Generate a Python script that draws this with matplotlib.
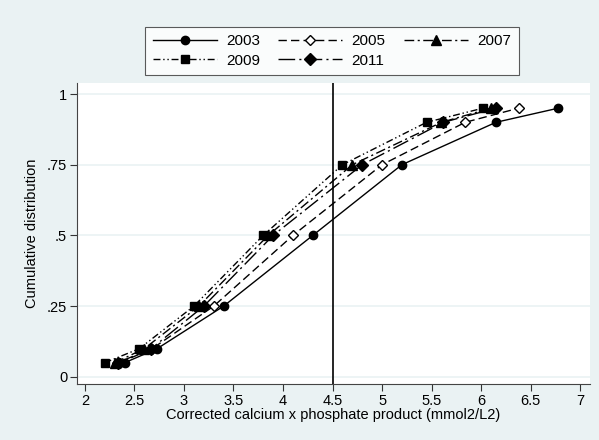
import matplotlib
matplotlib.use("Agg")
import matplotlib.pyplot as plt

plt.rcParams['font.family'] = ['Liberation Sans', 'DejaVu Sans']

# cumulative distribution levels
cum = [0.05, 0.1, 0.25, 0.5, 0.75, 0.9, 0.95]

# corrected Ca x P product at each level, by year
x2003 = [2.4, 2.73, 3.4, 4.3, 5.2, 6.15, 6.78]
x2005 = [2.35, 2.68, 3.3, 4.1, 5.0, 5.84, 6.38]
x2007 = [2.3, 2.6, 3.15, 3.85, 4.7, 5.6, 6.1]
x2009 = [2.2, 2.55, 3.1, 3.8, 4.6, 5.45, 6.02]
x2011 = [2.33, 2.67, 3.2, 3.9, 4.8, 5.62, 6.15]

xticks = [2, 2.5, 3, 3.5, 4, 4.5, 5, 5.5, 6, 6.5, 7]
xticklabels = ["2", "2.5", "3", "3.5", "4", "4.5", "5", "5.5", "6", "6.5", "7"]
yticks = [0, 0.25, 0.5, 0.75, 1]
yticklabels = ["0", ".25", ".5", ".75", "1"]

bg = "#eaf2f3"

fig = plt.figure(figsize=(5.99, 4.4), dpi=100, facecolor=bg)
ax = fig.add_axes([0.1285, 0.1273, 0.985 - 0.1285, 0.8114 - 0.1273])
ax.set_facecolor("white")

for y in yticks:
    ax.axhline(y, color=bg, lw=1.2, zorder=0)
ax.axvline(4.5, color="black", lw=1.2, zorder=1)

ms = 6
l1, = ax.plot(x2003, cum, color="black", lw=1, ls="-", marker="o", ms=ms, label="2003")
l2, = ax.plot(x2005, cum, color="black", lw=1, ls=(0, (6, 3)), marker="D", ms=ms - 1,
              mfc="white", mec="black", mew=1, label="2005")
l3, = ax.plot(x2007, cum, color="black", lw=1, ls=(0, (7, 2.5, 1.5, 2.5)), marker="^",
              ms=ms + 1, label="2007")
l4, = ax.plot(x2009, cum, color="black", lw=1, ls=(0, (5, 2, 1, 2, 1, 2)), marker="s",
              ms=ms, label="2009")
l5, = ax.plot(x2011, cum, color="black", lw=1, ls=(0, (12, 3, 1.5, 3)), marker="D",
              ms=ms, label="2011")

ax.set_xlim(1.92, 7.1)
ax.set_ylim(-0.025, 1.039)
ax.set_xticks(xticks)
ax.set_xticklabels(xticklabels)
ax.set_yticks(yticks)
ax.set_yticklabels(yticklabels)
ax.tick_params(axis="both", labelsize=10.5, color="#333333", length=5, pad=2)

for s in ["top", "right"]:
    ax.spines[s].set_visible(False)
for s in ["left", "bottom"]:
    ax.spines[s].set_color("#444444")

ax.set_xlabel("Corrected calcium x phosphate product (mmol2/L2)", fontsize=10.5, labelpad=0)
ax.set_ylabel("Cumulative distribution", fontsize=10.5, labelpad=6)

handles = [l1, l4, l2, l5, l3]
leg = fig.legend(handles=handles, labels=[h.get_label() for h in handles], ncol=3,
                 loc="center", bbox_to_anchor=(0.554, 0.884), fontsize=11,
                 handlelength=4.2, columnspacing=1.2, handletextpad=0.6,
                 frameon=True, fancybox=False, edgecolor="#333333",
                 borderpad=0.5, labelspacing=0.35)
leg.get_frame().set_linewidth(0.8)

fig.savefig("out.png", dpi=100, facecolor=bg)
